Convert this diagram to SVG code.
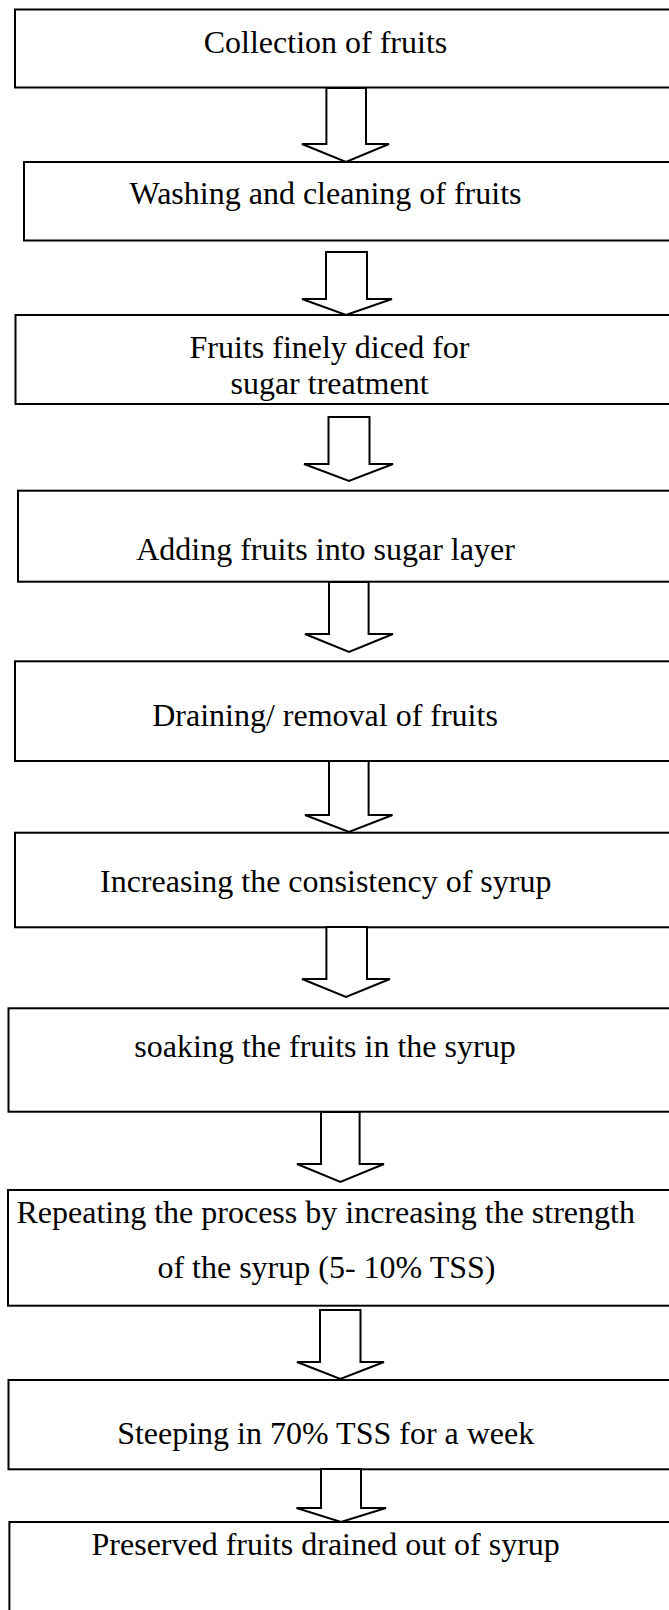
<svg xmlns="http://www.w3.org/2000/svg" width="669" height="1610" viewBox="0 0 669 1610">
<style>
.box{fill:#fff;stroke:#000;stroke-width:2}
.arr{fill:#fff;stroke:#000;stroke-width:2;stroke-linejoin:miter}
.t{font-family:"Liberation Serif","Times New Roman",serif;font-size:32px;fill:#000;text-anchor:middle}
</style>
<rect x="0" y="0" width="669" height="1610" fill="#fff"/>
<g id="n1"><rect class="box" x="15" y="9.5" width="665" height="78"/><text class="t" x="325.5" y="52.7">Collection of fruits</text></g>
<g id="n2"><rect class="box" x="24" y="162" width="656" height="78.5"/><text class="t" x="325.5" y="204">Washing and cleaning of fruits</text></g>
<g id="n3"><rect class="box" x="15.5" y="315" width="665" height="89"/><text class="t" x="329.5" y="358.3">Fruits finely diced for</text><text class="t" x="329.5" y="394">sugar treatment</text></g>
<g id="n4"><rect class="box" x="18" y="490.7" width="662" height="91"/><text class="t" x="325.5" y="560">Adding fruits into sugar layer</text></g>
<g id="n5"><rect class="box" x="15" y="661.3" width="665" height="99.7"/><text class="t" x="325" y="726">Draining/ removal of fruits</text></g>
<g id="n6"><rect class="box" x="15" y="832.7" width="665" height="94.6"/><text class="t" x="325.7" y="891.7">Increasing the consistency of syrup</text></g>
<g id="n7"><rect class="box" x="8.5" y="1008.3" width="672" height="103.4"/><text class="t" x="325" y="1056.7">soaking the fruits in the syrup</text></g>
<g id="n8"><rect class="box" x="8" y="1190" width="672" height="115.7"/><text class="t" x="325.7" y="1222.7">Repeating the process by increasing the strength</text><text class="t" x="326.4" y="1278.3">of the syrup (5- 10% TSS)</text></g>
<g id="n9"><rect class="box" x="8.5" y="1380" width="672" height="89.3"/><text class="t" x="325.7" y="1444.3">Steeping in 70% TSS for a week</text></g>
<g id="n10"><rect class="box" x="9.4" y="1522" width="671" height="100"/><text class="t" x="325.7" y="1555">Preserved fruits drained out of syrup</text></g>
<g id="connectors">
<polygon class="arr" points="326.4,88 326.4,144 302,144 346,162 389,144 366,144 366,88"/>
<polygon class="arr" points="326,252 326,299 302,299 346,315 392,299 367,299 367,252"/>
<polygon class="arr" points="328.5,417 328.5,464 304,464 349,481 393,464 369.5,464 369.5,417"/>
<polygon class="arr" points="329,582 329,634 305,634 349,652 393,634 368.6,634 368.6,582"/>
<polygon class="arr" points="329,761 329,815 305,815 349,832 392.5,815 368.6,815 368.6,761"/>
<polygon class="arr" points="326.4,927 326.4,979 302,979 346,997 390,979 367,979 367,927"/>
<polygon class="arr" points="321,1112 321,1164 297,1164 340.4,1182 384,1164 359.6,1164 359.6,1112"/>
<polygon class="arr" points="320,1310 320,1362 297,1362 340.4,1379 384,1362 360.5,1362 360.5,1310"/>
<polygon class="arr" points="321,1469 321,1508 296.5,1508 341,1522 386,1508 361,1508 361,1469"/>
</g>
</svg>
